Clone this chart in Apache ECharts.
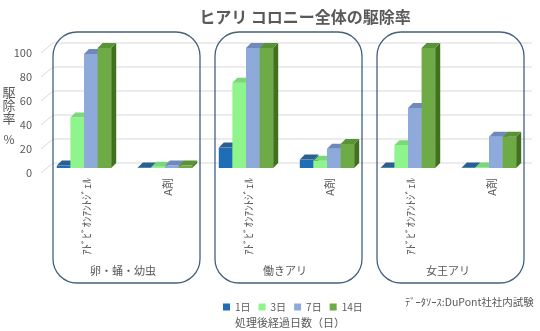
<!DOCTYPE html>
<html>
<head>
<meta charset="utf-8">
<script src="https://cdn.jsdelivr.net/npm/echarts@6/dist/echarts.min.js"></script>
<style>
  html, body { margin: 0; padding: 0; background: #fff; }
  #chart { width: 540px; height: 331px; }
</style>
</head>
<body>
<div id="chart"></div>
<script>
// 駆除率データ
var categories = ["ｱﾄﾞﾋﾞｵﾝｱﾝﾄｼﾞｪﾙ", "A剤", "ｱﾄﾞﾋﾞｵﾝｱﾝﾄｼﾞｪﾙ", "A剤", "ｱﾄﾞﾋﾞｵﾝｱﾝﾄｼﾞｪﾙ", "A剤"];
var groups = ["卵・蛹・幼虫", "働きアリ", "女王アリ"];
var dayNames = ["1日", "3日", "7日", "14日"];
var day1 = [2, 0.5, 17, 7, 0.5, 0.5];
var day3 = [42, 1, 71, 6, 19, 0.5];
var day7 = [95, 2, 100, 16, 50, 26];
var day14 = [100, 2, 100, 20, 100, 26];
var yTicks = [0, 20, 40, 60, 80, 100];

var colors = ["#1f6db4", "#8ef58c", "#8eaadb", "#6eaa45"];
var sideColors = ["#124a7e", "#5fc45d", "#5f7bb0", "#41711f"];
var topColors = ["#2a5f92", "#7ad878", "#6f88bd", "#5a9236"];

var textColor = "#595959";
var font = "Noto Sans CJK JP";
var D = 5; // 奥行き

function renderBar(params, api) {
  var si = params.seriesIndex - 1;
  var cat = api.value(0);
  var back = api.coord([cat, api.value(1)]);
  var base = api.coord([cat, 0]);
  var bw = api.size([1, 0])[0] * 0.168;
  var x0 = base[0] - 2 * bw - D / 2 + si * bw;
  var fy = back[1] + D, fb = base[1] + D;
  return {
    type: "group",
    children: [
      { type: "rect", shape: { x: x0, y: fy, width: bw, height: fb - fy }, style: { fill: colors[si] } },
      { type: "polygon", shape: { points: [[x0 + bw, fy], [x0 + bw + D, back[1]], [x0 + bw + D, base[1]], [x0 + bw, fb]] }, style: { fill: sideColors[si] } },
      { type: "polygon", shape: { points: [[x0, fy], [x0 + D, back[1]], [x0 + bw + D, back[1]], [x0 + bw, fy]] }, style: { fill: topColors[si] } }
    ]
  };
}

// 奥の壁の目盛線と左側の斜め線
function renderGrid(params, api) {
  var cs = params.coordSys;
  var y = api.coord([0, api.value(1)])[1];
  var x = cs.x + 7;
  return {
    type: "group",
    children: [
      { type: "line", shape: { x1: x, y1: y, x2: cs.x + cs.width, y2: y }, style: { stroke: "#d9d9d9", lineWidth: 1 } },
      { type: "line", shape: { x1: x - 12, y1: y + 10, x2: x, y2: y }, style: { stroke: "#d9d9d9", lineWidth: 1 } }
    ]
  };
}

function mkSeries(name, arr, i) {
  return {
    name: name,
    type: "custom",
    renderItem: renderBar,
    itemStyle: { color: colors[i] },
    encode: { x: 0, y: 1 },
    z: 3,
    data: arr.map(function (v, k) { return [k, v]; })
  };
}

var myChart = echarts.init(document.getElementById("chart"));

var boxes = [53, 215, 377].map(function (x) {
  return {
    type: "rect",
    shape: { x: x, y: 32, width: 147, height: 251, r: 24 },
    style: { fill: null, stroke: "#44607f", lineWidth: 1.3 },
    z: 10
  };
});
var groupLabels = groups.map(function (g, i) {
  return {
    type: "text",
    x: [123, 285, 448][i],
    y: 271,
    style: { text: g, font: "11px '" + font + "'", fill: textColor, align: "center", verticalAlign: "middle" },
    z: 11
  };
});

var option = {
  animation: false,
  title: {
    text: "ヒアリ コロニー全体の駆除率",
    left: 300,
    textAlign: "center",
    top: 4,
    textStyle: { fontFamily: font, fontSize: 16, fontWeight: "bold", color: textColor }
  },
  legend: {
    data: dayNames,
    left: 218,
    top: 297,
    itemWidth: 7,
    itemHeight: 7,
    itemGap: 8,
    icon: "rect",
    textStyle: { fontFamily: font, fontSize: 10, color: textColor }
  },
  grid: { left: 46, right: 8, top: 43, bottom: 168 },
  xAxis: {
    type: "category",
    data: categories,
    axisLine: { show: false },
    axisTick: { show: false },
    axisLabel: { rotate: 90, margin: 15, fontFamily: font, fontSize: 11, color: textColor, interval: 0 }
  },
  yAxis: {
    type: "value",
    min: 0,
    max: 100,
    interval: 20,
    axisLine: { show: false },
    axisTick: { show: false },
    splitLine: { show: false },
    axisLabel: { fontFamily: font, fontSize: 11, color: textColor, margin: 14, verticalAlign: "top", padding: [4, 0, 0, 0] }
  },
  graphic: boxes.concat(groupLabels).concat([
    { type: "text", x: 9, y: 105, style: { text: "駆\n除\n率", font: "13px '" + font + "'", lineHeight: 13, fill: textColor, align: "center", verticalAlign: "middle" } },
    { type: "text", x: 9, y: 139, style: { text: "%", font: "12px '" + font + "'", fill: textColor, align: "center", verticalAlign: "middle" } },
    { type: "text", x: 290, y: 323, style: { text: "処理後経過日数（日）", font: "11px '" + font + "'", fill: textColor, align: "center", verticalAlign: "middle" } },
    { type: "text", x: 405, y: 302, style: { text: "ﾃﾞｰﾀｿｰｽ:DuPont社社内試験", font: "10.5px '" + font + "'", fill: textColor, align: "left", verticalAlign: "middle" } }
  ]),
  series: [
    {
      type: "custom",
      renderItem: renderGrid,
      silent: true,
      z: 1,
      encode: { x: 0, y: 1 },
      data: yTicks.map(function (t) { return [0, t]; })
    },
    mkSeries(dayNames[0], day1, 0),
    mkSeries(dayNames[1], day3, 1),
    mkSeries(dayNames[2], day7, 2),
    mkSeries(dayNames[3], day14, 3)
  ]
};
myChart.setOption(option);
</script>
</body>
</html>
